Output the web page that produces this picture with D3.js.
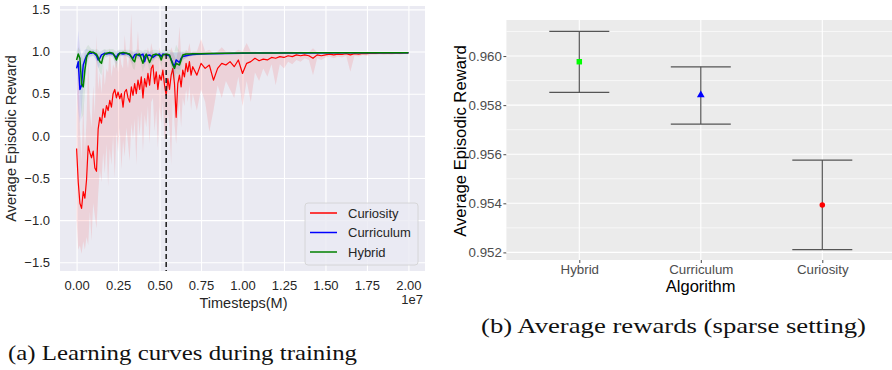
<!DOCTYPE html>
<html>
<head>
<meta charset="utf-8">
<script src="https://cdn.jsdelivr.net/npm/d3@7"></script>
<style>
  body { margin: 0; background: #fff; }
  svg { display: block; }
</style>
</head>
<body>
<svg id="fig" width="892" height="370"></svg>
<script>
// ---------- (a) learning curves: timesteps in millions ----------
const redT = [
  0, 0.1, 0.2, 0.3, 0.4, 0.5, 0.6, 0.7, 0.8, 0.9,
  1.0, 1.1, 1.2, 1.3, 1.4, 1.5, 1.6, 1.7, 1.8, 1.9,
  2.0, 2.1, 2.2, 2.3, 2.4, 2.5, 2.6, 2.7, 2.8, 2.9,
  3.0, 3.1, 3.2, 3.3, 3.4, 3.5, 3.6, 3.7, 3.8, 3.9,
  4.0, 4.1, 4.2, 4.3, 4.4, 4.5, 4.6, 4.7, 4.8, 4.9,
  5.0, 5.1, 5.2, 5.3, 5.4, 5.5, 5.6, 5.7, 5.8, 5.9,
  6.0, 6.1, 6.2, 6.3, 6.4, 6.5, 6.6, 6.7, 6.8, 6.9,
  7.0,
  7.25, 7.5, 7.75, 8, 8.25, 8.5, 8.75, 9, 9.25, 9.5,
  9.75, 10, 10.25, 10.5, 10.75, 11, 11.25, 11.5, 11.75, 12,
  12.25, 12.5, 12.75, 13, 13.25, 13.5, 13.75, 14, 14.25, 14.5,
  14.75, 15, 15.25, 15.5, 15.75, 16, 16.25, 16.5, 16.75, 17,
  17.25, 17.5, 17.75, 18, 18.25, 18.5, 18.75, 19, 19.25, 19.5,
  19.75, 20
];
const curiosityMean = [
  -0.15, -0.55, -0.80, -0.86, -0.66, -0.74, -0.52, -0.12, -0.20, -0.26,
  -0.18, -0.38, -0.42, 0.08, 0.22, 0.15, 0.32, 0.22, 0.36, 0.30,
  0.42, 0.34, 0.50, 0.55, 0.45, 0.52, 0.44, 0.50, 0.34, 0.52,
  0.55, 0.45, 0.40, 0.58, 0.48, 0.62, 0.50, 0.66, 0.55, 0.70,
  0.45, 0.68, 0.58, 0.74, 0.60, 0.80, 0.84, 0.62, 0.76, 0.55,
  0.72, 0.66, 0.78, 0.60, 0.48, 0.68, 0.55, 0.72, 0.80, 0.62,
  0.22, 0.62, 0.72, 0.58, 0.78, 0.70, 0.86, 0.76, 0.88, 0.72,
  0.82,
  0.72, 0.86, 0.80, 0.84, 0.66, 0.80, 0.86, 0.84, 0.88, 0.82,
  0.90, 0.74, 0.86, 0.88, 0.92, 0.89, 0.91, 0.90, 0.93, 0.92,
  0.94, 0.93, 0.95, 0.94, 0.96, 0.95, 0.96, 0.95, 0.92, 0.96,
  0.95, 0.96, 0.97, 0.96, 0.97, 0.965, 0.975, 0.96, 0.975, 0.97,
  0.978, 0.975, 0.98, 0.978, 0.982, 0.98, 0.982, 0.98, 0.984, 0.982,
  0.984, 0.985
];
const curiosityHi = [
  0.20, 1.15, 0.10, -0.30, 0.40, -0.20, 0.20, 0.95, 0.30, 0.10,
  0.60, 0.25, 1.20, 0.55, 0.75, 0.50, 0.85, 0.60, 0.80, 0.75,
  1.05, 0.70, 0.85, 0.80, 0.95, 0.75, 1.00, 0.85, 0.80, 1.20,
  0.95, 0.80, 1.05, 1.45, 0.85, 1.00, 0.95, 1.25, 0.90, 1.00,
  0.85, 1.00, 0.95, 1.05, 0.95, 1.10, 1.00, 0.95, 1.00, 0.90,
  1.05, 0.95, 1.00, 0.95, 0.95, 1.00, 0.95, 1.05, 1.00, 0.95,
  0.90, 1.00, 1.30, 0.95, 1.00, 0.98, 1.02, 1.00, 1.10, 0.98,
  1.00,
  1.00, 1.15, 1.00, 1.02, 0.98, 1.00, 1.05, 1.00, 1.00, 0.99,
  1.02, 1.00, 1.10, 1.00, 1.00, 0.99, 1.00, 1.00, 1.00, 0.99,
  1.00, 1.00, 1.00, 1.00, 0.99, 1.00, 0.99, 0.99, 1.04, 0.99,
  0.99, 0.995, 0.995, 0.995, 0.995, 0.995, 0.995, 0.995, 0.995, 0.995,
  0.995, 0.995, 0.995, 0.995, 0.995, 0.995, 0.995, 0.995, 0.995, 0.995,
  0.995, 0.995
];
const curiosityLo = [
  -1.00, -1.35, -1.30, -1.40, -1.25, -1.35, -1.20, -1.30, -0.90, -1.25,
  -0.80, -0.95, -1.10, -0.70, -0.40, -0.55, -0.20, -0.45, -0.10, -0.60,
  -0.15, -0.35, 0.00, -0.50, 0.05, -0.20, 0.10, -0.40, -0.05, -0.25,
  0.10, -0.10, -0.30, 0.15, -0.05, 0.20, -0.35, 0.25, 0.00, 0.30,
  -0.20, 0.25, 0.10, 0.35, -0.10, 0.40, 0.45, 0.05, 0.30, -0.15,
  0.35, 0.15, 0.40, -0.05, 0.00, 0.30, 0.10, -0.35, 0.45, 0.15,
  -0.10, 0.20, 0.40, 0.10, 0.45, 0.35, 0.55, 0.40, 0.60, 0.30,
  0.50,
  0.30, 0.55, 0.40, 0.05, 0.30, 0.60, 0.45, 0.65, 0.55, 0.45,
  0.70, 0.35, 0.65, 0.40, 0.75, 0.65, 0.80, 0.70, 0.85, 0.60,
  0.85, 0.80, 0.88, 0.85, 0.90, 0.88, 0.92, 0.90, 0.72, 0.92,
  0.90, 0.93, 0.94, 0.92, 0.94, 0.93, 0.95, 0.76, 0.95, 0.94,
  0.96, 0.95, 0.96, 0.96, 0.965, 0.96, 0.965, 0.96, 0.97, 0.965,
  0.97, 0.975
];

const ccT = [
  0, 0.1, 0.2, 0.3, 0.4, 0.5, 0.6, 0.7, 0.8, 0.9,
  1.0, 1.1, 1.2, 1.3, 1.4, 1.5, 1.6, 1.7, 1.8, 2.0,
  2.2, 2.4, 2.5, 2.6, 2.8, 3.0, 3.2, 3.4, 3.5, 3.6,
  3.8, 4.0, 4.1, 4.2, 4.4, 4.6, 4.8, 5.0, 5.1, 5.2,
  5.4, 5.6, 5.8, 5.9, 6.0, 6.2, 6.3, 6.4, 6.6, 6.8,
  7.0, 7.5, 8.0, 9.0, 10, 11, 12, 14, 16, 18,
  20
];
const curriculumMean = [
  0.80, 0.88, 0.55, 0.60, 0.84, 0.90, 0.95, 0.97, 0.98, 0.98,
  0.99, 0.97, 0.95, 0.90, 0.92, 0.96, 0.97, 0.98, 0.97, 0.98,
  0.97, 0.93, 0.97, 0.98, 0.97, 0.98, 0.96, 0.92, 0.96, 0.97,
  0.95, 0.97, 0.88, 0.95, 0.96, 0.93, 0.96, 0.97, 0.94, 0.97,
  0.96, 0.95, 0.86, 0.82, 0.90, 0.87, 0.92, 0.94, 0.95, 0.96,
  0.965, 0.97, 0.975, 0.978, 0.98, 0.982, 0.983, 0.984, 0.985, 0.985,
  0.986
];
const curriculumHi = [
  1.00, 1.25, 1.05, 0.95, 1.00, 1.02, 1.03, 1.02, 1.02, 1.02,
  1.02, 1.01, 1.01, 1.00, 1.00, 1.01, 1.01, 1.02, 1.01, 1.01,
  1.01, 1.00, 1.01, 1.01, 1.01, 1.01, 1.00, 1.00, 1.00, 1.00,
  1.00, 1.00, 1.00, 1.00, 1.00, 1.00, 1.00, 1.00, 0.99, 1.00,
  1.00, 1.00, 0.99, 0.99, 0.99, 1.00, 1.00, 0.99, 0.99, 0.99,
  0.99, 0.99, 0.99, 0.99, 0.99, 0.99, 0.99, 0.99, 0.99, 0.99,
  0.99
];
const curriculumLo = [
  0.55, 0.30, 0.15, 0.30, 0.60, 0.75, 0.85, 0.90, 0.93, 0.94,
  0.95, 0.92, 0.88, 0.80, 0.84, 0.90, 0.93, 0.95, 0.93, 0.95,
  0.93, 0.85, 0.93, 0.95, 0.94, 0.95, 0.92, 0.85, 0.92, 0.94,
  0.90, 0.94, 0.80, 0.91, 0.93, 0.88, 0.93, 0.95, 0.90, 0.94,
  0.93, 0.91, 0.75, 0.70, 0.80, 0.78, 0.86, 0.90, 0.92, 0.94,
  0.95, 0.96, 0.965, 0.97, 0.972, 0.975, 0.977, 0.978, 0.98, 0.98,
  0.98
];
const hybridMean = [
  0.90, 0.97, 0.92, 0.62, 0.58, 0.78, 0.93, 0.98, 1.00, 0.99,
  0.99, 0.98, 0.97, 0.93, 0.88, 0.86, 0.94, 0.97, 0.98, 0.99,
  0.98, 0.90, 0.95, 0.98, 0.99, 0.98, 0.97, 0.90, 0.88, 0.96,
  0.97, 0.86, 0.94, 0.97, 0.87, 0.96, 0.97, 0.95, 0.90, 0.96,
  0.97, 0.96, 0.84, 0.80, 0.86, 0.84, 0.90, 0.96, 0.97, 0.97,
  0.975, 0.975, 0.978, 0.98, 0.982, 0.983, 0.984, 0.985, 0.986, 0.986,
  0.987
];
const hybridHi = [
  1.00, 1.05, 1.02, 0.95, 0.90, 1.00, 1.05, 1.08, 1.05, 1.03,
  1.03, 1.02, 1.03, 1.02, 1.00, 1.00, 1.02, 1.03, 1.02, 1.03,
  1.03, 1.00, 1.02, 1.02, 1.02, 1.02, 1.02, 1.00, 1.00, 1.02,
  1.02, 1.00, 1.02, 1.02, 1.00, 1.02, 1.02, 1.01, 1.00, 1.02,
  1.02, 1.02, 1.00, 1.00, 1.08, 1.00, 1.00, 1.01, 1.01, 1.00,
  1.00, 1.00, 0.995, 0.995, 0.99, 0.99, 0.99, 0.99, 0.99, 0.99,
  0.99
];
const hybridLo = [
  0.70, 0.85, 0.55, 0.20, 0.25, 0.50, 0.80, 0.92, 0.95, 0.95,
  0.95, 0.93, 0.90, 0.82, 0.75, 0.72, 0.85, 0.92, 0.94, 0.95,
  0.94, 0.80, 0.88, 0.94, 0.95, 0.94, 0.92, 0.80, 0.78, 0.90,
  0.93, 0.75, 0.86, 0.93, 0.76, 0.90, 0.93, 0.90, 0.82, 0.90,
  0.93, 0.90, 0.70, 0.65, 0.74, 0.72, 0.80, 0.90, 0.93, 0.94,
  0.95, 0.96, 0.965, 0.97, 0.972, 0.975, 0.977, 0.978, 0.98, 0.98,
  0.98
];
const switchStep = 5.4; // dashed marker, millions
const xTicksA = [0, 2.5, 5, 7.5, 10, 12.5, 15, 17.5, 20]; // millions
const yTicksA = [-1.5, -1, -0.5, 0, 0.5, 1, 1.5];
const legendNames = ['Curiosity', 'Curriculum', 'Hybrid'];

// ---------- (b) average rewards ----------
const algorithms = ['Hybrid', 'Curriculum', 'Curiosity'];
const avgReward = [0.95977, 0.95841, 0.95393];
const rewardHi = [0.96101, 0.95956, 0.95576];
const rewardLo = [0.95852, 0.95723, 0.95211];
const yTicksB = [0.952, 0.954, 0.956, 0.958, 0.960];
const yMinorB = [0.953, 0.955, 0.957, 0.959, 0.961];

const svg = d3.select('#fig');
const sans = '"Liberation Sans", Arial, sans-serif';

// ======================= panel (a) =======================
const A = { left: 60, right: 425, top: 6, bottom: 271 };
const xA = d3.scaleLinear().domain([-1e6, 2.1e7]).range([A.left, A.right]);
const yA = d3.scaleLinear().domain([-1.603, 1.54]).range([A.bottom, A.top]);

const ga = svg.append('g');
ga.append('rect')
  .attr('x', A.left).attr('y', A.top)
  .attr('width', A.right - A.left).attr('height', A.bottom - A.top)
  .attr('fill', '#eaeaf2');

const yAxisA = ga.append('g')
  .attr('transform', `translate(${A.left},0)`)
  .call(d3.axisLeft(yA).tickValues(yTicksA).tickFormat(d3.format('.1f'))
    .tickSize(-(A.right - A.left)).tickPadding(10));
const xAxisA = ga.append('g')
  .attr('transform', `translate(0,${A.bottom})`)
  .call(d3.axisBottom(xA).tickValues(xTicksA.map(v => v * 1e6))
    .tickFormat(v => d3.format('.2f')(v / 1e7))
    .tickSize(-(A.bottom - A.top)).tickPadding(10));
[yAxisA, xAxisA].forEach(ax => {
  ax.select('.domain').remove();
  ax.selectAll('.tick line').attr('stroke', '#fff').attr('stroke-width', 1.1);
  ax.selectAll('.tick text').attr('fill', '#262626')
    .style('font-family', sans).style('font-size', '13px');
});

ga.append('clipPath').attr('id', 'clipA').append('rect')
  .attr('x', A.left).attr('y', A.top)
  .attr('width', A.right - A.left).attr('height', A.bottom - A.top);
const plotA = ga.append('g').attr('clip-path', 'url(#clipA)');

function rows(T, m, lo, hi) {
  return T.map((t, i) => ({ t: t * 1e6, m: m[i], lo: lo[i], hi: hi[i] }));
}
const seriesA = [
  { name: 'Curiosity', color: '#ff0000', band: 0.1, width: 1.2,
    data: rows(redT, curiosityMean, curiosityLo, curiosityHi) },
  { name: 'Curriculum', color: '#0000ff', band: 0.08, width: 1.5,
    data: rows(ccT, curriculumMean, curriculumLo, curriculumHi) },
  { name: 'Hybrid', color: '#008000', band: 0.08, width: 1.5,
    data: rows(ccT, hybridMean, hybridLo, hybridHi) }
];

const area = d3.area().x(d => xA(d.t)).y0(d => yA(d.lo)).y1(d => yA(d.hi));
const line = d3.line().x(d => xA(d.t)).y(d => yA(d.m));

seriesA.forEach(s => {
  plotA.append('path').datum(s.data)
    .attr('d', area).attr('fill', s.color).attr('fill-opacity', s.band);
  plotA.append('path').datum(s.data)
    .attr('d', line).attr('fill', 'none')
    .attr('stroke', s.color).attr('stroke-width', s.width)
    .attr('stroke-linejoin', 'round');
});

plotA.append('line')
  .attr('x1', xA(switchStep * 1e6)).attr('x2', xA(switchStep * 1e6))
  .attr('y1', A.top).attr('y2', A.bottom)
  .attr('stroke', '#1a1a1a').attr('stroke-width', 1.5)
  .attr('stroke-dasharray', '5,3');

// legend
const leg = ga.append('g');
leg.append('rect')
  .attr('x', 305).attr('y', 203).attr('width', 113).attr('height', 62)
  .attr('rx', 3).attr('fill', '#eaeaf2').attr('fill-opacity', 0.8)
  .attr('stroke', '#d0d0d0').attr('stroke-width', 0.8);
legendNames.forEach((n, i) => {
  const s = seriesA.find(d => d.name === n);
  const y = 213 + i * 19.5;
  leg.append('line').attr('x1', 310).attr('x2', 337).attr('y1', y).attr('y2', y)
    .attr('stroke', s.color).attr('stroke-width', 1.5);
  leg.append('text').attr('x', 348).attr('y', y + 4.6).text(n)
    .attr('fill', '#262626').style('font-family', sans).style('font-size', '13px');
});

ga.append('text')
  .attr('transform', 'translate(16,138.5) rotate(-90)')
  .attr('text-anchor', 'middle').text('Average Episodic Reward')
  .attr('fill', '#262626').style('font-family', sans).style('font-size', '14.5px');
ga.append('text')
  .attr('x', 243.5).attr('y', 307.5).attr('text-anchor', 'middle').text('Timesteps(M)')
  .attr('fill', '#262626').style('font-family', sans).style('font-size', '14.5px');
ga.append('text')
  .attr('x', 423).attr('y', 304).attr('text-anchor', 'end').text('1e7')
  .attr('fill', '#262626').style('font-family', sans).style('font-size', '13px');

// ======================= panel (b) =======================
const B = { left: 506.4, right: 895, top: 20, bottom: 260 };
const yB = d3.scaleLinear().domain([0.95169, 0.96147]).range([B.bottom, B.top]);
const xB = d3.scalePoint().domain(algorithms).range([579.3, 822.3]);

const gb = svg.append('g');
gb.append('rect')
  .attr('x', B.left).attr('y', B.top)
  .attr('width', B.right - B.left).attr('height', B.bottom - B.top)
  .attr('fill', '#ebebeb');

gb.selectAll('.minor').data(yMinorB).join('line')
  .attr('x1', B.left).attr('x2', B.right)
  .attr('y1', d => yB(d)).attr('y2', d => yB(d))
  .attr('stroke', '#fff').attr('stroke-width', 0.6);

const yAxisB = gb.append('g')
  .attr('transform', `translate(${B.left},0)`)
  .call(d3.axisLeft(yB).tickValues(yTicksB).tickFormat(d3.format('.3f'))
    .tickSize(3).tickPadding(1.5));
const xAxisB = gb.append('g')
  .attr('transform', `translate(0,${B.bottom})`)
  .call(d3.axisBottom(xB).tickSize(3).tickPadding(1.2));
[yAxisB, xAxisB].forEach(ax => {
  ax.select('.domain').remove();
  ax.selectAll('.tick line').attr('stroke', '#333').attr('stroke-width', 0.9);
  ax.selectAll('.tick text').attr('fill', '#4d4d4d')
    .style('font-family', sans).style('font-size', '13.3px');
});
// major grid
gb.selectAll('.gy').data(yTicksB).join('line')
  .attr('x1', B.left).attr('x2', B.right)
  .attr('y1', d => yB(d)).attr('y2', d => yB(d))
  .attr('stroke', '#fff').attr('stroke-width', 1.1);
gb.selectAll('.gx').data(algorithms).join('line')
  .attr('x1', d => xB(d)).attr('x2', d => xB(d))
  .attr('y1', B.top).attr('y2', B.bottom)
  .attr('stroke', '#fff').attr('stroke-width', 1.1);

const halfW = 30;
algorithms.forEach((a, i) => {
  const x = xB(a);
  const g = gb.append('g').attr('stroke', '#555').attr('stroke-width', 1.2);
  g.append('line').attr('x1', x).attr('x2', x)
    .attr('y1', yB(rewardHi[i])).attr('y2', yB(rewardLo[i]));
  g.append('line').attr('x1', x - halfW).attr('x2', x + halfW)
    .attr('y1', yB(rewardHi[i])).attr('y2', yB(rewardHi[i]));
  g.append('line').attr('x1', x - halfW).attr('x2', x + halfW)
    .attr('y1', yB(rewardLo[i])).attr('y2', yB(rewardLo[i]));
});

const shapes = [d3.symbolSquare, d3.symbolTriangle, d3.symbolCircle];
const shapeColors = ['#00ff00', '#0000ff', '#ff0000'];
const shapeSizes = [30, 26, 24];
algorithms.forEach((a, i) => {
  gb.append('path')
    .attr('d', d3.symbol().type(shapes[i]).size(shapeSizes[i])())
    .attr('transform', `translate(${xB(a)},${yB(avgReward[i])})`)
    .attr('fill', shapeColors[i]);
});

gb.append('text')
  .attr('transform', 'translate(466,141) rotate(-90)')
  .attr('text-anchor', 'middle').text('Average Episodic Reward')
  .attr('fill', '#000').style('font-family', sans).style('font-size', '16.7px');
gb.append('text')
  .attr('x', 700.7).attr('y', 291.5).attr('text-anchor', 'middle').text('Algorithm')
  .attr('fill', '#000').style('font-family', sans).style('font-size', '16.5px');

// ======================= captions =======================
const serif = '"Liberation Serif", "Times New Roman", serif';
svg.append('text').attr('x', 8).attr('y', 360)
  .attr('textLength', 349).attr('lengthAdjust', 'spacingAndGlyphs')
  .text('(a) Learning curves during training')
  .attr('fill', '#111').style('font-family', serif).style('font-size', '21px');
svg.append('text').attr('x', 481).attr('y', 333)
  .attr('textLength', 385).attr('lengthAdjust', 'spacingAndGlyphs')
  .text('(b) Average rewards (sparse setting)')
  .attr('fill', '#111').style('font-family', serif).style('font-size', '21px');
</script>
</body>
</html>
